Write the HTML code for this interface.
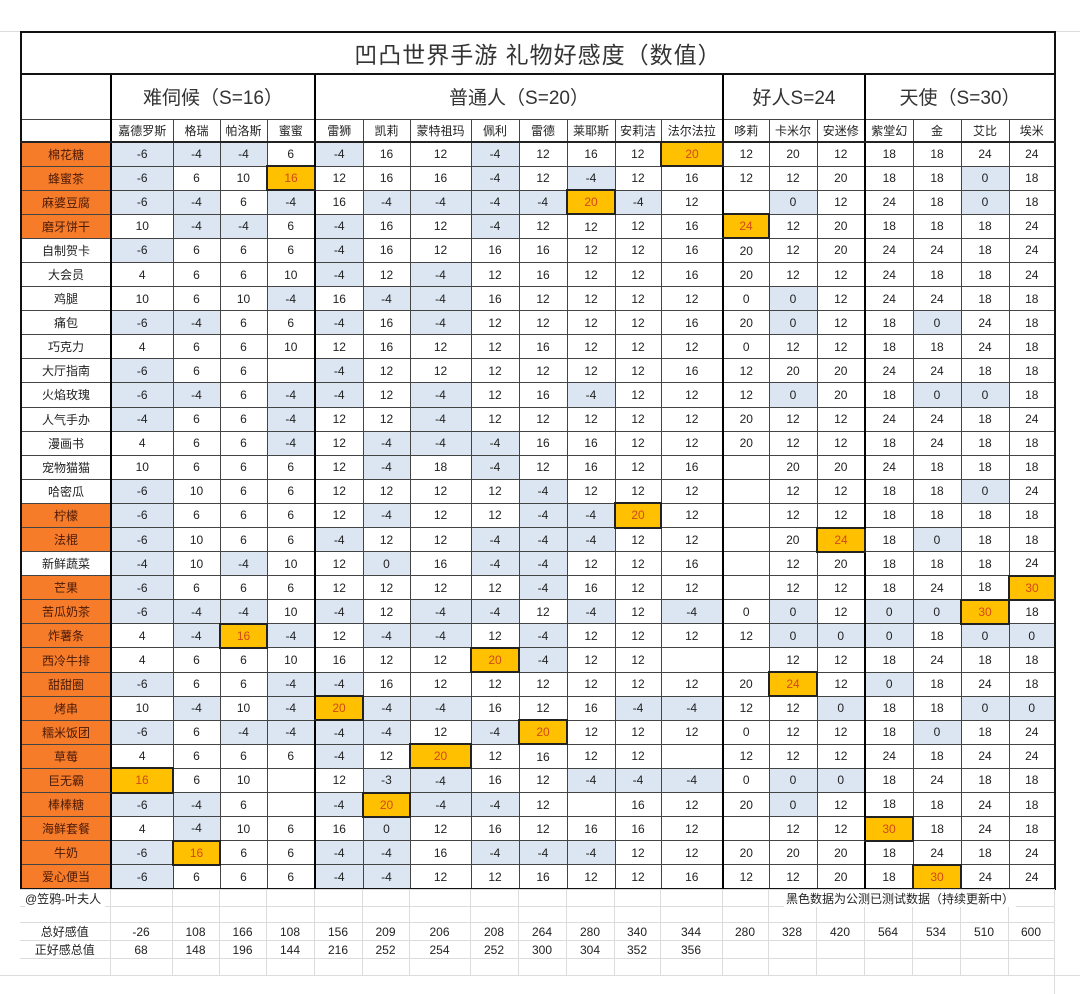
<!DOCTYPE html>
<html><head><meta charset="utf-8"><style>
body{margin:0;width:1080px;height:994px;background:#fff;position:relative;overflow:hidden;font-family:"Liberation Sans","Noto Sans CJK SC",sans-serif;}
table{border-collapse:collapse;table-layout:fixed;position:absolute;left:20px;}
#m{top:31px;border:2px solid #111;}
#m td,#m th{border:1px solid #444;text-align:center;padding:0;font-size:12px;color:#222;font-weight:normal;overflow:hidden;white-space:nowrap;}
#m tr.d{height:24.1px;}
#m .b{background:#dce6f2;}
#m .g{background:#ffc000;color:#d2481a;border:2px solid #222;}
#m th.o{background:#f67c2a;color:#4a1a08;}
#m tr.d td:nth-child(2),#m tr.d td:nth-child(6),#m tr.d td:nth-child(14),#m tr.d td:nth-child(17),#m tr.h td:nth-child(2),#m tr.h td:nth-child(6),#m tr.h td:nth-child(14),#m tr.h td:nth-child(17){border-left:2px solid #000;}
#m tr.h td{font-size:12px;border-bottom:2px solid #222;}
#m .grp td{font-size:19px;color:#333;border-left:2px solid #000;}
#m .t td{font-size:23px;color:#333;letter-spacing:1px;border-bottom:2px solid #111;}
#f{top:889px;}
#f td{border:1px solid #dcdcdc;font-size:12px;text-align:center;padding:0;color:#222;white-space:nowrap;}
.ab{position:absolute;font-size:12px;color:#222;}
</style></head><body>
<div style="position:absolute;left:0;top:31px;width:20px;border-top:1px solid #ddd"></div>
<div style="position:absolute;left:1054px;top:31px;width:26px;border-top:1px solid #ddd"></div>
<div style="position:absolute;left:0;top:975px;width:1080px;border-top:1px solid #ddd"></div>
<div style="position:absolute;left:1054px;top:888px;height:106px;border-left:1px solid #ddd"></div>
<table id="m">
<colgroup><col style="width:90px"><col style="width:62px"><col style="width:47px"><col style="width:47px"><col style="width:48px"><col style="width:48px"><col style="width:47px"><col style="width:61px"><col style="width:48px"><col style="width:48px"><col style="width:48px"><col style="width:46px"><col style="width:62px"><col style="width:46px"><col style="width:48px"><col style="width:48px"><col style="width:48px"><col style="width:48px"><col style="width:48px"><col style="width:46px"></colgroup>
<tr class="t" style="height:42px"><td colspan="20">凹凸世界手游  礼物好感度（数值）</td></tr>
<tr class="grp" style="height:45px"><td style="border-left:1px solid #444"></td><td colspan="4">难伺候（S=16）</td><td colspan="8">普通人（S=20）</td><td colspan="3">好人S=24</td><td colspan="4">天使（S=30）</td></tr>
<tr class="h" style="height:23px"><td></td><td>嘉德罗斯</td><td>格瑞</td><td>帕洛斯</td><td>蜜蜜</td><td>雷狮</td><td>凯莉</td><td>蒙特祖玛</td><td>佩利</td><td>雷德</td><td>莱耶斯</td><td>安莉洁</td><td>法尔法拉</td><td>哆莉</td><td>卡米尔</td><td>安迷修</td><td>紫堂幻</td><td>金</td><td>艾比</td><td>埃米</td></tr>
<tr class="d"><th class="o">棉花糖</th><td class="b">-6</td><td class="b">-4</td><td class="b">-4</td><td>6</td><td class="b">-4</td><td>16</td><td>12</td><td class="b">-4</td><td>12</td><td>16</td><td>12</td><td class="g">20</td><td>12</td><td>20</td><td>12</td><td>18</td><td>18</td><td>24</td><td>24</td></tr>
<tr class="d"><th class="o">蜂蜜茶</th><td class="b">-6</td><td>6</td><td>10</td><td class="g">16</td><td>12</td><td>16</td><td>16</td><td class="b">-4</td><td>12</td><td class="b">-4</td><td>12</td><td>16</td><td>12</td><td>12</td><td>20</td><td>18</td><td>18</td><td class="b">0</td><td>18</td></tr>
<tr class="d"><th class="o">麻婆豆腐</th><td class="b">-6</td><td class="b">-4</td><td>6</td><td class="b">-4</td><td>16</td><td class="b">-4</td><td class="b">-4</td><td class="b">-4</td><td class="b">-4</td><td class="g">20</td><td class="b">-4</td><td>12</td><td></td><td class="b">0</td><td>12</td><td>24</td><td>18</td><td class="b">0</td><td>18</td></tr>
<tr class="d"><th class="o">磨牙饼干</th><td>10</td><td class="b">-4</td><td class="b">-4</td><td>6</td><td class="b">-4</td><td>16</td><td>12</td><td class="b">-4</td><td>12</td><td>12</td><td>12</td><td>16</td><td class="g">24</td><td>12</td><td>20</td><td>18</td><td>18</td><td>18</td><td>24</td></tr>
<tr class="d"><th>自制贺卡</th><td class="b">-6</td><td>6</td><td>6</td><td>6</td><td class="b">-4</td><td>16</td><td>12</td><td>16</td><td>16</td><td>12</td><td>12</td><td>16</td><td>20</td><td>12</td><td>20</td><td>24</td><td>24</td><td>18</td><td>24</td></tr>
<tr class="d"><th>大会员</th><td>4</td><td>6</td><td>6</td><td>10</td><td class="b">-4</td><td>12</td><td class="b">-4</td><td>12</td><td>16</td><td>12</td><td>12</td><td>16</td><td>20</td><td>12</td><td>12</td><td>24</td><td>18</td><td>18</td><td>24</td></tr>
<tr class="d"><th>鸡腿</th><td>10</td><td>6</td><td>10</td><td class="b">-4</td><td>16</td><td class="b">-4</td><td class="b">-4</td><td>16</td><td>12</td><td>12</td><td>12</td><td>12</td><td>0</td><td class="b">0</td><td>12</td><td>24</td><td>24</td><td>18</td><td>18</td></tr>
<tr class="d"><th>痛包</th><td class="b">-6</td><td class="b">-4</td><td>6</td><td>6</td><td class="b">-4</td><td>16</td><td class="b">-4</td><td>12</td><td>12</td><td>12</td><td>12</td><td>16</td><td>20</td><td class="b">0</td><td>12</td><td>18</td><td class="b">0</td><td>24</td><td>18</td></tr>
<tr class="d"><th>巧克力</th><td>4</td><td>6</td><td>6</td><td>10</td><td>12</td><td>16</td><td>12</td><td>12</td><td>16</td><td>12</td><td>12</td><td>12</td><td>0</td><td>12</td><td>12</td><td>18</td><td>18</td><td>24</td><td>18</td></tr>
<tr class="d"><th>大厅指南</th><td class="b">-6</td><td>6</td><td>6</td><td></td><td class="b">-4</td><td>12</td><td>12</td><td>12</td><td>12</td><td>12</td><td>12</td><td>16</td><td>12</td><td>20</td><td>20</td><td>24</td><td>24</td><td>18</td><td>18</td></tr>
<tr class="d"><th>火焰玫瑰</th><td class="b">-6</td><td class="b">-4</td><td>6</td><td class="b">-4</td><td class="b">-4</td><td>12</td><td class="b">-4</td><td>12</td><td>16</td><td class="b">-4</td><td>12</td><td>12</td><td>12</td><td class="b">0</td><td>20</td><td>18</td><td class="b">0</td><td class="b">0</td><td>18</td></tr>
<tr class="d"><th>人气手办</th><td class="b">-4</td><td>6</td><td>6</td><td class="b">-4</td><td>12</td><td>12</td><td class="b">-4</td><td>12</td><td>12</td><td>12</td><td>12</td><td>12</td><td>20</td><td>12</td><td>12</td><td>24</td><td>24</td><td>18</td><td>24</td></tr>
<tr class="d"><th>漫画书</th><td>4</td><td>6</td><td>6</td><td class="b">-4</td><td>12</td><td class="b">-4</td><td class="b">-4</td><td class="b">-4</td><td>16</td><td>16</td><td>12</td><td>12</td><td>20</td><td>12</td><td>12</td><td>18</td><td>24</td><td>18</td><td>18</td></tr>
<tr class="d"><th>宠物猫猫</th><td>10</td><td>6</td><td>6</td><td>6</td><td>12</td><td class="b">-4</td><td>18</td><td class="b">-4</td><td>12</td><td>16</td><td>12</td><td>16</td><td></td><td>20</td><td>20</td><td>24</td><td>18</td><td>18</td><td>18</td></tr>
<tr class="d"><th>哈密瓜</th><td class="b">-6</td><td>10</td><td>6</td><td>6</td><td>12</td><td>12</td><td>12</td><td>12</td><td class="b">-4</td><td>12</td><td>12</td><td>12</td><td></td><td>12</td><td>12</td><td>18</td><td>18</td><td class="b">0</td><td>24</td></tr>
<tr class="d"><th class="o">柠檬</th><td class="b">-6</td><td>6</td><td>6</td><td>6</td><td>12</td><td class="b">-4</td><td>12</td><td>12</td><td class="b">-4</td><td class="b">-4</td><td class="g">20</td><td>12</td><td></td><td>12</td><td>12</td><td>18</td><td>18</td><td>18</td><td>18</td></tr>
<tr class="d"><th class="o">法棍</th><td class="b">-6</td><td>10</td><td>6</td><td>6</td><td class="b">-4</td><td>12</td><td>12</td><td class="b">-4</td><td class="b">-4</td><td class="b">-4</td><td>12</td><td>12</td><td></td><td>20</td><td class="g">24</td><td>18</td><td class="b">0</td><td>18</td><td>18</td></tr>
<tr class="d"><th>新鲜蔬菜</th><td class="b">-4</td><td>10</td><td class="b">-4</td><td>10</td><td>12</td><td class="b">0</td><td>16</td><td class="b">-4</td><td class="b">-4</td><td>12</td><td>12</td><td>16</td><td></td><td>12</td><td>20</td><td>18</td><td>18</td><td>18</td><td>24</td></tr>
<tr class="d"><th class="o">芒果</th><td class="b">-6</td><td>6</td><td>6</td><td>6</td><td>12</td><td>12</td><td>12</td><td>12</td><td class="b">-4</td><td>16</td><td>12</td><td>12</td><td></td><td>12</td><td>12</td><td>18</td><td>24</td><td>18</td><td class="g">30</td></tr>
<tr class="d"><th class="o">苦瓜奶茶</th><td class="b">-6</td><td class="b">-4</td><td class="b">-4</td><td>10</td><td class="b">-4</td><td>12</td><td class="b">-4</td><td class="b">-4</td><td>12</td><td class="b">-4</td><td>12</td><td class="b">-4</td><td>0</td><td class="b">0</td><td>12</td><td class="b">0</td><td class="b">0</td><td class="g">30</td><td>18</td></tr>
<tr class="d"><th class="o">炸薯条</th><td>4</td><td class="b">-4</td><td class="g">16</td><td class="b">-4</td><td>12</td><td class="b">-4</td><td class="b">-4</td><td>12</td><td class="b">-4</td><td>12</td><td>12</td><td>12</td><td>12</td><td class="b">0</td><td class="b">0</td><td class="b">0</td><td>18</td><td class="b">0</td><td class="b">0</td></tr>
<tr class="d"><th class="o">西冷牛排</th><td>4</td><td>6</td><td>6</td><td>10</td><td>16</td><td>12</td><td>12</td><td class="g">20</td><td class="b">-4</td><td>12</td><td>12</td><td></td><td></td><td>12</td><td>12</td><td>18</td><td>24</td><td>18</td><td>18</td></tr>
<tr class="d"><th class="o">甜甜圈</th><td class="b">-6</td><td>6</td><td>6</td><td class="b">-4</td><td class="b">-4</td><td>16</td><td>12</td><td>12</td><td>12</td><td>12</td><td>12</td><td>12</td><td>20</td><td class="g">24</td><td>12</td><td class="b">0</td><td>18</td><td>24</td><td>18</td></tr>
<tr class="d"><th class="o">烤串</th><td>10</td><td class="b">-4</td><td>10</td><td class="b">-4</td><td class="g">20</td><td class="b">-4</td><td class="b">-4</td><td>16</td><td>12</td><td>16</td><td class="b">-4</td><td class="b">-4</td><td>12</td><td>12</td><td class="b">0</td><td>18</td><td>18</td><td class="b">0</td><td class="b">0</td></tr>
<tr class="d"><th class="o">糯米饭团</th><td class="b">-6</td><td>6</td><td class="b">-4</td><td class="b">-4</td><td class="b">-4</td><td class="b">-4</td><td>12</td><td class="b">-4</td><td class="g">20</td><td>12</td><td>12</td><td>12</td><td>0</td><td>12</td><td>12</td><td>18</td><td class="b">0</td><td>18</td><td>24</td></tr>
<tr class="d"><th class="o">草莓</th><td>4</td><td>6</td><td>6</td><td>6</td><td class="b">-4</td><td>12</td><td class="g">20</td><td>12</td><td>16</td><td>12</td><td>12</td><td></td><td>12</td><td>12</td><td>12</td><td>24</td><td>18</td><td>24</td><td>24</td></tr>
<tr class="d"><th class="o">巨无霸</th><td class="g">16</td><td>6</td><td>10</td><td></td><td>12</td><td class="b">-3</td><td class="b">-4</td><td>16</td><td>12</td><td class="b">-4</td><td class="b">-4</td><td class="b">-4</td><td>0</td><td class="b">0</td><td class="b">0</td><td>18</td><td>24</td><td>18</td><td>18</td></tr>
<tr class="d"><th class="o">棒棒糖</th><td class="b">-6</td><td class="b">-4</td><td>6</td><td></td><td class="b">-4</td><td class="g">20</td><td class="b">-4</td><td class="b">-4</td><td>12</td><td></td><td>16</td><td>12</td><td>20</td><td class="b">0</td><td>12</td><td>18</td><td>18</td><td>24</td><td>18</td></tr>
<tr class="d"><th class="o">海鲜套餐</th><td>4</td><td class="b">-4</td><td>10</td><td>6</td><td>16</td><td class="b">0</td><td>12</td><td>16</td><td>12</td><td>16</td><td>16</td><td>12</td><td></td><td>12</td><td>12</td><td class="g">30</td><td>18</td><td>24</td><td>18</td></tr>
<tr class="d"><th class="o">牛奶</th><td class="b">-6</td><td class="g">16</td><td>6</td><td>6</td><td class="b">-4</td><td class="b">-4</td><td>16</td><td class="b">-4</td><td class="b">-4</td><td class="b">-4</td><td>12</td><td>12</td><td>20</td><td>20</td><td>20</td><td>18</td><td>24</td><td>18</td><td>24</td></tr>
<tr class="d"><th class="o">爱心便当</th><td class="b">-6</td><td>6</td><td>6</td><td>6</td><td class="b">-4</td><td class="b">-4</td><td>12</td><td>12</td><td>16</td><td>12</td><td>12</td><td>16</td><td>12</td><td>12</td><td>20</td><td>18</td><td class="g">30</td><td>24</td><td>24</td></tr>
</table>
<table id="f">
<colgroup><col style="width:90px"><col style="width:62px"><col style="width:47px"><col style="width:47px"><col style="width:48px"><col style="width:48px"><col style="width:47px"><col style="width:61px"><col style="width:48px"><col style="width:48px"><col style="width:48px"><col style="width:46px"><col style="width:62px"><col style="width:46px"><col style="width:48px"><col style="width:48px"><col style="width:48px"><col style="width:48px"><col style="width:48px"><col style="width:46px"></colgroup>
<tr style="height:17px"><td style="border-left:none"></td><td></td><td></td><td></td><td></td><td></td><td></td><td></td><td></td><td></td><td></td><td></td><td></td><td></td><td></td><td></td><td></td><td></td><td></td><td></td></tr>
<tr style="height:16px"><td style="border-left:none"></td><td></td><td></td><td></td><td></td><td></td><td></td><td></td><td></td><td></td><td></td><td></td><td></td><td></td><td></td><td></td><td></td><td></td><td></td><td></td></tr>
<tr style="height:16px"><td style="border-left:none">总好感值</td><td>-26</td><td>108</td><td>166</td><td>108</td><td>156</td><td>209</td><td>206</td><td>208</td><td>264</td><td>280</td><td>340</td><td>344</td><td>280</td><td>328</td><td>420</td><td>564</td><td>534</td><td>510</td><td>600</td></tr>
<tr style="height:16px"><td style="border-left:none">正好感总值</td><td>68</td><td>148</td><td>196</td><td>144</td><td>216</td><td>252</td><td>254</td><td>252</td><td>300</td><td>304</td><td>352</td><td>356</td><td></td><td></td><td></td><td></td><td></td><td></td><td></td></tr>
<tr style="height:17px"><td style="border-left:none"></td><td></td><td></td><td></td><td></td><td></td><td></td><td></td><td></td><td></td><td></td><td></td><td></td><td></td><td></td><td></td><td></td><td></td><td></td><td></td></tr>
</table>
<div class="ab" style="left:25px;top:890px;background:#fff;padding-right:4px">@笠鸦-叶夫人</div>
<div class="ab" style="left:784px;top:890px;background:#fff;padding:0 2px">黑色数据为公测已测试数据（持续更新中）</div>
</body></html>
